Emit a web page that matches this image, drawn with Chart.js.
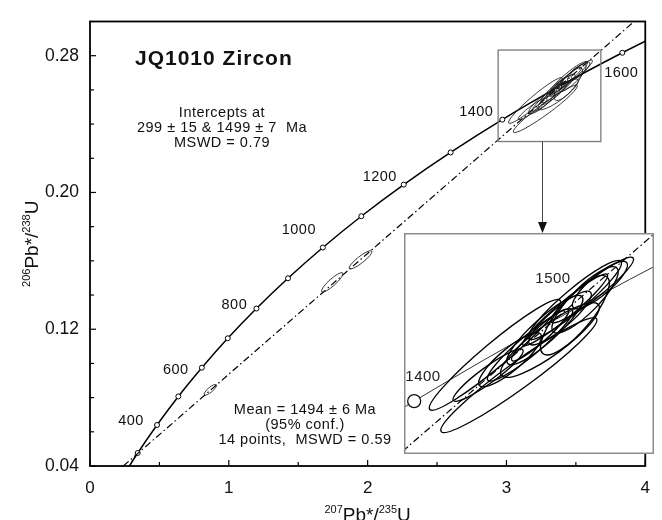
<!DOCTYPE html>
<html>
<head>
<meta charset="utf-8">
<script src="https://cdn.jsdelivr.net/npm/chart.js@4.4.1/dist/chart.umd.min.js"></script>
<style>
  html, body { margin: 0; padding: 0; background: #fff; }
  #wrap { position: relative; width: 662px; height: 520px; overflow: hidden; }
  #main { position: absolute; left: 0; top: 0; }
  #inset { position: absolute; left: 404px; top: 233px; background: #fff; }
</style>
</head>
<body>
<div id="wrap">
  <canvas id="main" width="662" height="520"></canvas>
  <canvas id="inset" width="250" height="221"></canvas>
</div>
<script>
// concordia points every 100 Ma
const concordiaAges = [200, 300, 400, 500, 600, 700, 800, 900, 1000, 1100, 1200, 1300, 1400, 1500, 1600, 1700];
const concordiaX = [0.2177, 0.3437, 0.4828, 0.6363, 0.8056, 0.9925, 1.1987, 1.4263, 1.6774, 1.9545, 2.2603, 2.5977, 2.9701, 3.3810, 3.8344, 4.3348];
const concordiaY = [0.0315, 0.0476, 0.0640, 0.0807, 0.0975, 0.1147, 0.1321, 0.1498, 0.1678, 0.1861, 0.2046, 0.2234, 0.2426, 0.2620, 0.2817, 0.3018];
const labelledAges = [400, 600, 800, 1000, 1200, 1400, 1600];

// discordia through the two intercepts
const discordiaX = [0.24, 3.92];
const discordiaY = [0.04, 0.30];

// analyses: 207/235, error, 206/238, error, rho
const spotX    = [0.867, 1.745, 1.949, 3.209, 3.280, 3.189, 3.313, 3.357, 3.402, 3.446, 3.497, 3.476, 3.372, 3.254, 3.417, 3.520, 3.343, 3.446];
const spotErrX = [0.0445, 0.0774, 0.0822, 0.1941, 0.2310, 0.1039, 0.1262, 0.1125, 0.0927, 0.1377, 0.1224, 0.0981, 0.1460, 0.0931, 0.1257, 0.0816, 0.0847, 0.1018];
const spotY    = [0.0846, 0.1474, 0.1606, 0.2538, 0.2489, 0.2489, 0.2562, 0.2598, 0.2627, 0.2671, 0.2695, 0.2671, 0.2574, 0.2526, 0.2647, 0.2707, 0.2586, 0.2634];
const spotErrY = [0.00314, 0.00574, 0.00537, 0.01341, 0.01390, 0.00632, 0.00876, 0.00838, 0.00649, 0.00955, 0.00794, 0.00802, 0.00903, 0.00655, 0.00868, 0.00575, 0.00628, 0.00960];
const spotRho  = [0.82, 0.89, 0.89, 0.959, 0.960, 0.927, 0.933, 0.890, 0.879, 0.933, 0.938, 0.846, 0.872, 0.855, 0.957, 0.845, 0.933, 0.809];

const xLabels = [0, 1, 2, 3, 4];
const yLabels = [0.04, 0.12, 0.20, 0.28];

const sampleName = 'JQ1010 Zircon';
const interceptText = ['Intercepts at', '299 \u00b1 15 & 1499 \u00b1 7  Ma', 'MSWD = 0.79'];
const meanText = ['Mean = 1494 \u00b1 6 Ma', '(95% conf.)', '14 points,  MSWD = 0.59'];

// zoom window shown enlarged in the inset
const insetXRange = [2.94, 3.68];
const insetYRange = [0.2298, 0.2833];
const insetLabelAges = [1400, 1500];

// ---- layout / style ----
const FONT = '"Liberation Sans", Arial, Helvetica, sans-serif';
const ageLabelOffsets = { 400: [-26, -4], 600: [-26, 2], 800: [-22, -4], 1000: [-24, -18], 1200: [-24, -8], 1400: [-26, -8], 1600: [-1, 20] };
const insetLabelPos = { 1400: [19, 144], 1500: [149, 46] };
const arrowAtX = 3.255;
const insetTop = 233;
const dashDot = [7, 3, 1.5, 3];

function pts(xs, ys) {
    return xs.map((v, i) => ({ x: v, y: ys[i] }));
}

function drawEllipses(chart, color, width) {
    const { ctx, chartArea: a, scales: { x, y } } = chart;
    const kx = Math.abs(x.getPixelForValue(1) - x.getPixelForValue(0));
    const ky = Math.abs(y.getPixelForValue(1) - y.getPixelForValue(0));
    ctx.save();
    ctx.beginPath();
    ctx.rect(a.left, a.top, a.right - a.left, a.bottom - a.top);
    ctx.clip();
    ctx.strokeStyle = color;
    ctx.lineWidth = width;
    spotX.forEach((v, i) => {
        const sx = spotErrX[i] * kx, sy = spotErrY[i] * ky;
        const c = -spotRho[i] * sx * sy; // y runs downwards on canvas
        const half = (sx * sx + sy * sy) / 2;
        const diff = Math.sqrt(Math.pow((sx * sx - sy * sy) / 2, 2) + c * c);
        const r1 = Math.sqrt(half + diff);
        const r2 = Math.sqrt(Math.max(half - diff, 0.01));
        const ang = 0.5 * Math.atan2(2 * c, sx * sx - sy * sy);
        ctx.beginPath();
        ctx.ellipse(x.getPixelForValue(v), y.getPixelForValue(spotY[i]), r1, r2, ang, 0, Math.PI * 2);
        ctx.stroke();
    });
    ctx.restore();
}

function drawSupText(ctx, parts, big, small) {
    // parts: [text, isSuperscript]; draws centred at 0,0 on the baseline
    const widths = parts.map(p => {
        ctx.font = (p[1] ? small : big) + 'px ' + FONT;
        return ctx.measureText(p[0]).width;
    });
    let x = -widths.reduce((s, w) => s + w, 0) / 2;
    ctx.textAlign = 'left';
    ctx.textBaseline = 'alphabetic';
    parts.forEach((p, i) => {
        ctx.font = (p[1] ? small : big) + 'px ' + FONT;
        ctx.fillText(p[0], x, p[1] ? -big * 0.42 : 0);
        x += widths[i];
    });
}

const mainDecor = {
    id: 'mainDecor',
    afterDraw(chart) {
        const { ctx, chartArea: a, scales: { x, y } } = chart;
        ctx.save();

        // frame
        ctx.strokeStyle = '#000';
        ctx.lineWidth = 1.8;
        ctx.strokeRect(a.left, a.top, a.right - a.left, a.bottom - a.top);

        // inward ticks
        ctx.lineWidth = 1.2;
        y.ticks.forEach(t => {
            const major = yLabels.some(v => Math.abs(v - t.value) < 1e-6);
            const py = y.getPixelForValue(t.value);
            ctx.beginPath();
            ctx.moveTo(a.left, py);
            ctx.lineTo(a.left + (major ? 6 : 4), py);
            ctx.stroke();
        });
        x.ticks.forEach(t => {
            const major = xLabels.some(v => Math.abs(v - t.value) < 1e-6);
            const px = x.getPixelForValue(t.value);
            ctx.beginPath();
            ctx.moveTo(px, a.bottom);
            ctx.lineTo(px, a.bottom - (major ? 6 : 4));
            ctx.stroke();
        });

        // zoom box and arrow to the inset
        const bx0 = x.getPixelForValue(insetXRange[0]), bx1 = x.getPixelForValue(insetXRange[1]);
        const by0 = y.getPixelForValue(insetYRange[1]), by1 = y.getPixelForValue(insetYRange[0]);
        ctx.strokeStyle = '#7a7a7a';
        ctx.lineWidth = 1.3;
        ctx.strokeRect(bx0, by0, bx1 - bx0, by1 - by0);
        const ax = Math.round(x.getPixelForValue(arrowAtX)) + 0.5;
        ctx.strokeStyle = '#444';
        ctx.lineWidth = 1;
        ctx.beginPath();
        ctx.moveTo(ax, by1);
        ctx.lineTo(ax, insetTop - 8);
        ctx.stroke();
        ctx.fillStyle = '#111';
        ctx.beginPath();
        ctx.moveTo(ax, insetTop);
        ctx.lineTo(ax - 4.5, insetTop - 11);
        ctx.lineTo(ax + 4.5, insetTop - 11);
        ctx.closePath();
        ctx.fill();

        // texts
        ctx.fillStyle = '#111';
        ctx.textBaseline = 'middle';
        ctx.font = 'bold 21px ' + FONT;
        ctx.letterSpacing = '1px';
        ctx.textAlign = 'left';
        ctx.fillText(sampleName, 135, 59);

        ctx.font = '14.5px ' + FONT;
        ctx.letterSpacing = '0.5px';
        ctx.textAlign = 'center';
        interceptText.forEach((s, i) => ctx.fillText(s, 222, 113 + i * 15));
        meanText.forEach((s, i) => ctx.fillText(s, 305, 410 + i * 15));

        ctx.font = '14.5px ' + FONT;
        labelledAges.forEach(age => {
            const i = concordiaAges.indexOf(age);
            const off = ageLabelOffsets[age];
            ctx.fillText(String(age), x.getPixelForValue(concordiaX[i]) + off[0], y.getPixelForValue(concordiaY[i]) + off[1]);
        });
        ctx.letterSpacing = '0px';

        // axis titles
        ctx.save();
        ctx.translate((a.left + a.right) / 2, 521);
        drawSupText(ctx, [['207', true], ['Pb*/', false], ['235', true], ['U', false]], 19, 11);
        ctx.restore();
        ctx.save();
        ctx.translate(38, (a.top + a.bottom) / 2);
        ctx.rotate(-Math.PI / 2);
        drawSupText(ctx, [['206', true], ['Pb*/', false], ['238', true], ['U', false]], 19, 11);
        ctx.restore();

        ctx.restore();
    },
    afterDatasetsDraw(chart) {
        drawEllipses(chart, '#1a1a1a', 0.85);
    }
};

new Chart(document.getElementById('main'), {
    type: 'scatter',
    data: {
        datasets: [
            {
                data: pts(discordiaX, discordiaY),
                showLine: true,
                borderColor: '#000',
                borderWidth: 1.2,
                borderDash: dashDot,
                pointRadius: 0
            },
            {
                data: pts(concordiaX, concordiaY),
                showLine: true,
                borderColor: '#000',
                borderWidth: 1.5,
                cubicInterpolationMode: 'monotone',
                pointRadius: concordiaAges.map(a => (a >= 300 && a <= 1600) ? 2.5 : 0),
                pointBackgroundColor: '#fff',
                pointBorderColor: '#000',
                pointBorderWidth: 1
            }
        ]
    },
    options: {
        responsive: false,
        animation: false,
        devicePixelRatio: 1,
        layout: { padding: { top: 11, right: 3, left: 0, bottom: 0 } },
        plugins: { legend: { display: false }, tooltip: { enabled: false } },
        scales: {
            x: {
                type: 'linear',
                min: 0,
                max: 4,
                afterFit: s => { s.height = 54; },
                grid: { display: false, drawTicks: false },
                border: { display: false },
                ticks: {
                    stepSize: 0.5,
                    padding: 12,
                    color: '#111',
                    font: { family: FONT, size: 17 },
                    callback: v => xLabels.some(l => Math.abs(l - v) < 1e-6) ? String(Math.round(v)) : ''
                }
            },
            y: {
                type: 'linear',
                min: 0.04,
                max: 0.30,
                afterFit: s => { s.width = 90; },
                grid: { display: false, drawTicks: false },
                border: { display: false },
                ticks: {
                    stepSize: 0.02,
                    padding: 11,
                    color: '#111',
                    font: { family: FONT, size: 17.5 },
                    callback: v => yLabels.some(l => Math.abs(l - v) < 1e-6) ? v.toFixed(2) : ''
                }
            }
        }
    },
    plugins: [mainDecor]
});

const insetDecor = {
    id: 'insetDecor',
    afterDatasetsDraw(chart) {
        drawEllipses(chart, '#000', 1.35);
    },
    afterDraw(chart) {
        const { ctx } = chart;
        ctx.save();
        ctx.fillStyle = '#222';
        ctx.font = '15px ' + FONT;
        ctx.letterSpacing = '0.5px';
        ctx.textAlign = 'center';
        ctx.textBaseline = 'middle';
        insetLabelAges.forEach(age => {
            const p = insetLabelPos[age];
            ctx.fillText(String(age), p[0], p[1]);
        });
        ctx.strokeStyle = '#8c8c8c';
        ctx.lineWidth = 1.5;
        ctx.strokeRect(0.75, 0.75, chart.width - 1.5, chart.height - 1.5);
        ctx.restore();
    }
};

new Chart(document.getElementById('inset'), {
    type: 'scatter',
    data: {
        datasets: [
            {
                data: pts(discordiaX, discordiaY),
                showLine: true,
                borderColor: '#000',
                borderWidth: 1.2,
                borderDash: dashDot,
                pointRadius: 0
            },
            {
                data: pts(concordiaX, concordiaY),
                showLine: true,
                borderColor: '#333',
                borderWidth: 1,
                cubicInterpolationMode: 'monotone',
                pointRadius: concordiaAges.map(a => a === 1400 ? 6.5 : 0),
                pointBackgroundColor: '#fff',
                pointBorderColor: '#111',
                pointBorderWidth: 1.3
            }
        ]
    },
    options: {
        responsive: false,
        animation: false,
        devicePixelRatio: 1,
        layout: { padding: 0 },
        plugins: { legend: { display: false }, tooltip: { enabled: false } },
        scales: {
            x: { type: 'linear', display: false, min: insetXRange[0], max: insetXRange[1] },
            y: { type: 'linear', display: false, min: insetYRange[0], max: insetYRange[1] }
        }
    },
    plugins: [insetDecor]
});
</script>
</body>
</html>
